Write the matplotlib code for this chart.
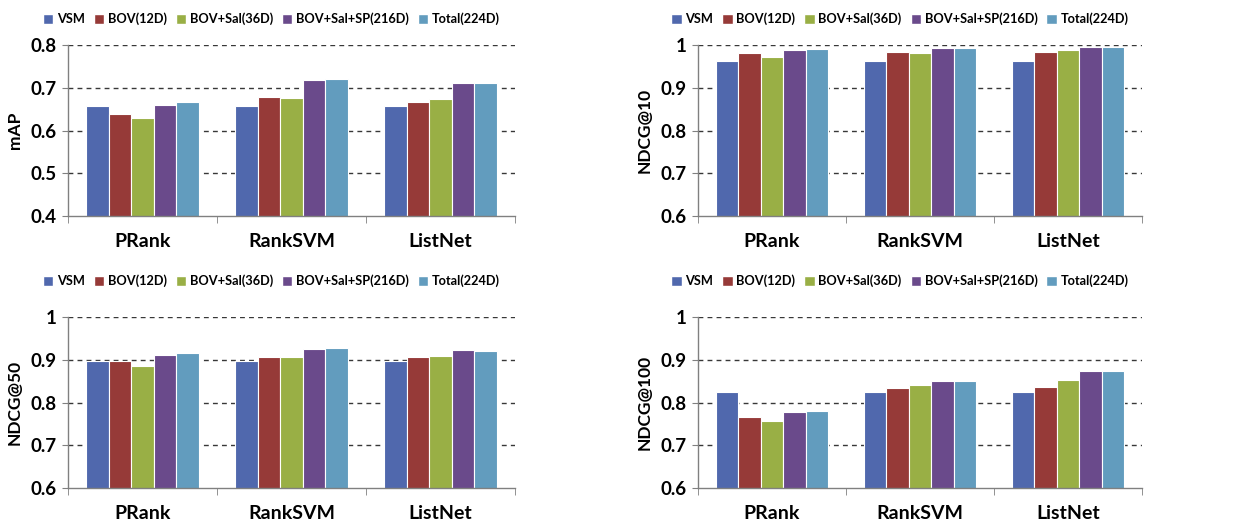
import numpy as np
import matplotlib
matplotlib.use("Agg")
import matplotlib.pyplot as plt
from matplotlib.patches import Patch

# Data
methods = ["PRank", "RankSVM", "ListNet"]
series = ["VSM", "BOV(12D)", "BOV+Sal(36D)", "BOV+Sal+SP(216D)", "Total(224D)"]
colors = ["#5068AD", "#963A38", "#99AF45", "#6A4A8B", "#629CBE"]

# rows = series, columns = methods
map_vals = [
    [0.657, 0.657, 0.657],
    [0.639, 0.678, 0.667],
    [0.630, 0.677, 0.674],
    [0.660, 0.719, 0.710],
    [0.666, 0.721, 0.710],
]
ndcg10_vals = [
    [0.963, 0.963, 0.963],
    [0.982, 0.983, 0.983],
    [0.973, 0.981, 0.988],
    [0.988, 0.992, 0.995],
    [0.990, 0.992, 0.995],
]
ndcg50_vals = [
    [0.897, 0.897, 0.897],
    [0.896, 0.906, 0.906],
    [0.886, 0.906, 0.909],
    [0.911, 0.925, 0.922],
    [0.915, 0.927, 0.921],
]
ndcg100_vals = [
    [0.825, 0.825, 0.825],
    [0.765, 0.835, 0.836],
    [0.757, 0.841, 0.853],
    [0.777, 0.850, 0.873],
    [0.781, 0.851, 0.873],
]

W, H = 1255, 525
plt.rcParams["font.family"] = ["Lato", "DejaVu Sans"]
plt.rcParams["font.weight"] = "bold"

fig = plt.figure(figsize=(W / 100, H / 100), dpi=100)


# Function to place an axes using pixel box (left, top, right, bottom)
def add_axes_px(l, t, r, b):
    return fig.add_axes([l / W, 1 - b / H, (r - l) / W, (b - t) / H])


# Function to draw one grouped bar panel
def draw_panel(ax, values, ylabel, ylim, yticks, legend_y, width_px):
    x = np.arange(len(methods))
    group_w = 0.76
    bw = group_w / len(series)
    for i, vals in enumerate(values):
        offs = -group_w / 2 + bw * (i + 0.5)
        ax.bar(x + offs, vals, width=bw, color=colors[i], edgecolor="white",
               linewidth=0.8, zorder=3)
    ax.set_xlim(-0.5, len(methods) - 0.5)
    ax.set_ylim(*ylim)
    ax.set_yticks(yticks)
    ax.set_yticklabels([f"{t:g}" for t in yticks], fontsize=13.5, fontweight="bold")
    ax.set_xticks(x)
    ax.set_xticklabels(methods, fontsize=14, fontweight="bold")
    ax.set_xticks(np.arange(len(methods) + 1) - 0.5, minor=True)
    ax.tick_params(axis="x", which="major", length=0, pad=12)
    ax.tick_params(axis="x", which="minor", length=5, color="#808080", direction="out")
    ax.tick_params(axis="y", length=4, color="#808080", pad=4)
    ax.set_ylabel(ylabel, fontsize=12.5, fontweight="bold")
    ax.yaxis.set_label_coords(-45 / width_px, 0.5)
    # dashed grid, but not on top of the x axis line
    ax.yaxis.grid(True, linestyle=(0, (3.5, 3)), color="#383838", linewidth=1.0, zorder=0)
    ax.yaxis.get_gridlines()[0].set_visible(False)
    for s in ["top", "right"]:
        ax.spines[s].set_visible(False)
    for s in ["left", "bottom"]:
        ax.spines[s].set_color("#808080")
        ax.spines[s].set_linewidth(1.0)
        ax.spines[s].set_zorder(4)
    handles = [Patch(facecolor=c, edgecolor="white") for c in colors]
    ax.legend(handles, series, loc="center", bbox_to_anchor=(0.455, legend_y),
              ncol=5, frameon=False, handlelength=0.8, handleheight=0.8,
              handletextpad=0.3, columnspacing=0.7,
              prop={"weight": "bold", "size": 9.2})


ax1 = add_axes_px(68, 45, 515, 216)
draw_panel(ax1, map_vals, "mAP", (0.4, 0.8), [0.4, 0.5, 0.6, 0.7, 0.8], 1.153, 447)
ax2 = add_axes_px(698, 45, 1142, 216)
draw_panel(ax2, ndcg10_vals, "NDCG@10", (0.6, 1.0), [0.6, 0.7, 0.8, 0.9, 1.0], 1.153, 444)
ax3 = add_axes_px(68, 317, 515, 488)
draw_panel(ax3, ndcg50_vals, "NDCG@50", (0.6, 1.0), [0.6, 0.7, 0.8, 0.9, 1.0], 1.21, 447)
ax4 = add_axes_px(698, 317, 1142, 488)
draw_panel(ax4, ndcg100_vals, "NDCG@100", (0.6, 1.0), [0.6, 0.7, 0.8, 0.9, 1.0], 1.21, 444)

fig.savefig("out.png", dpi=100)
